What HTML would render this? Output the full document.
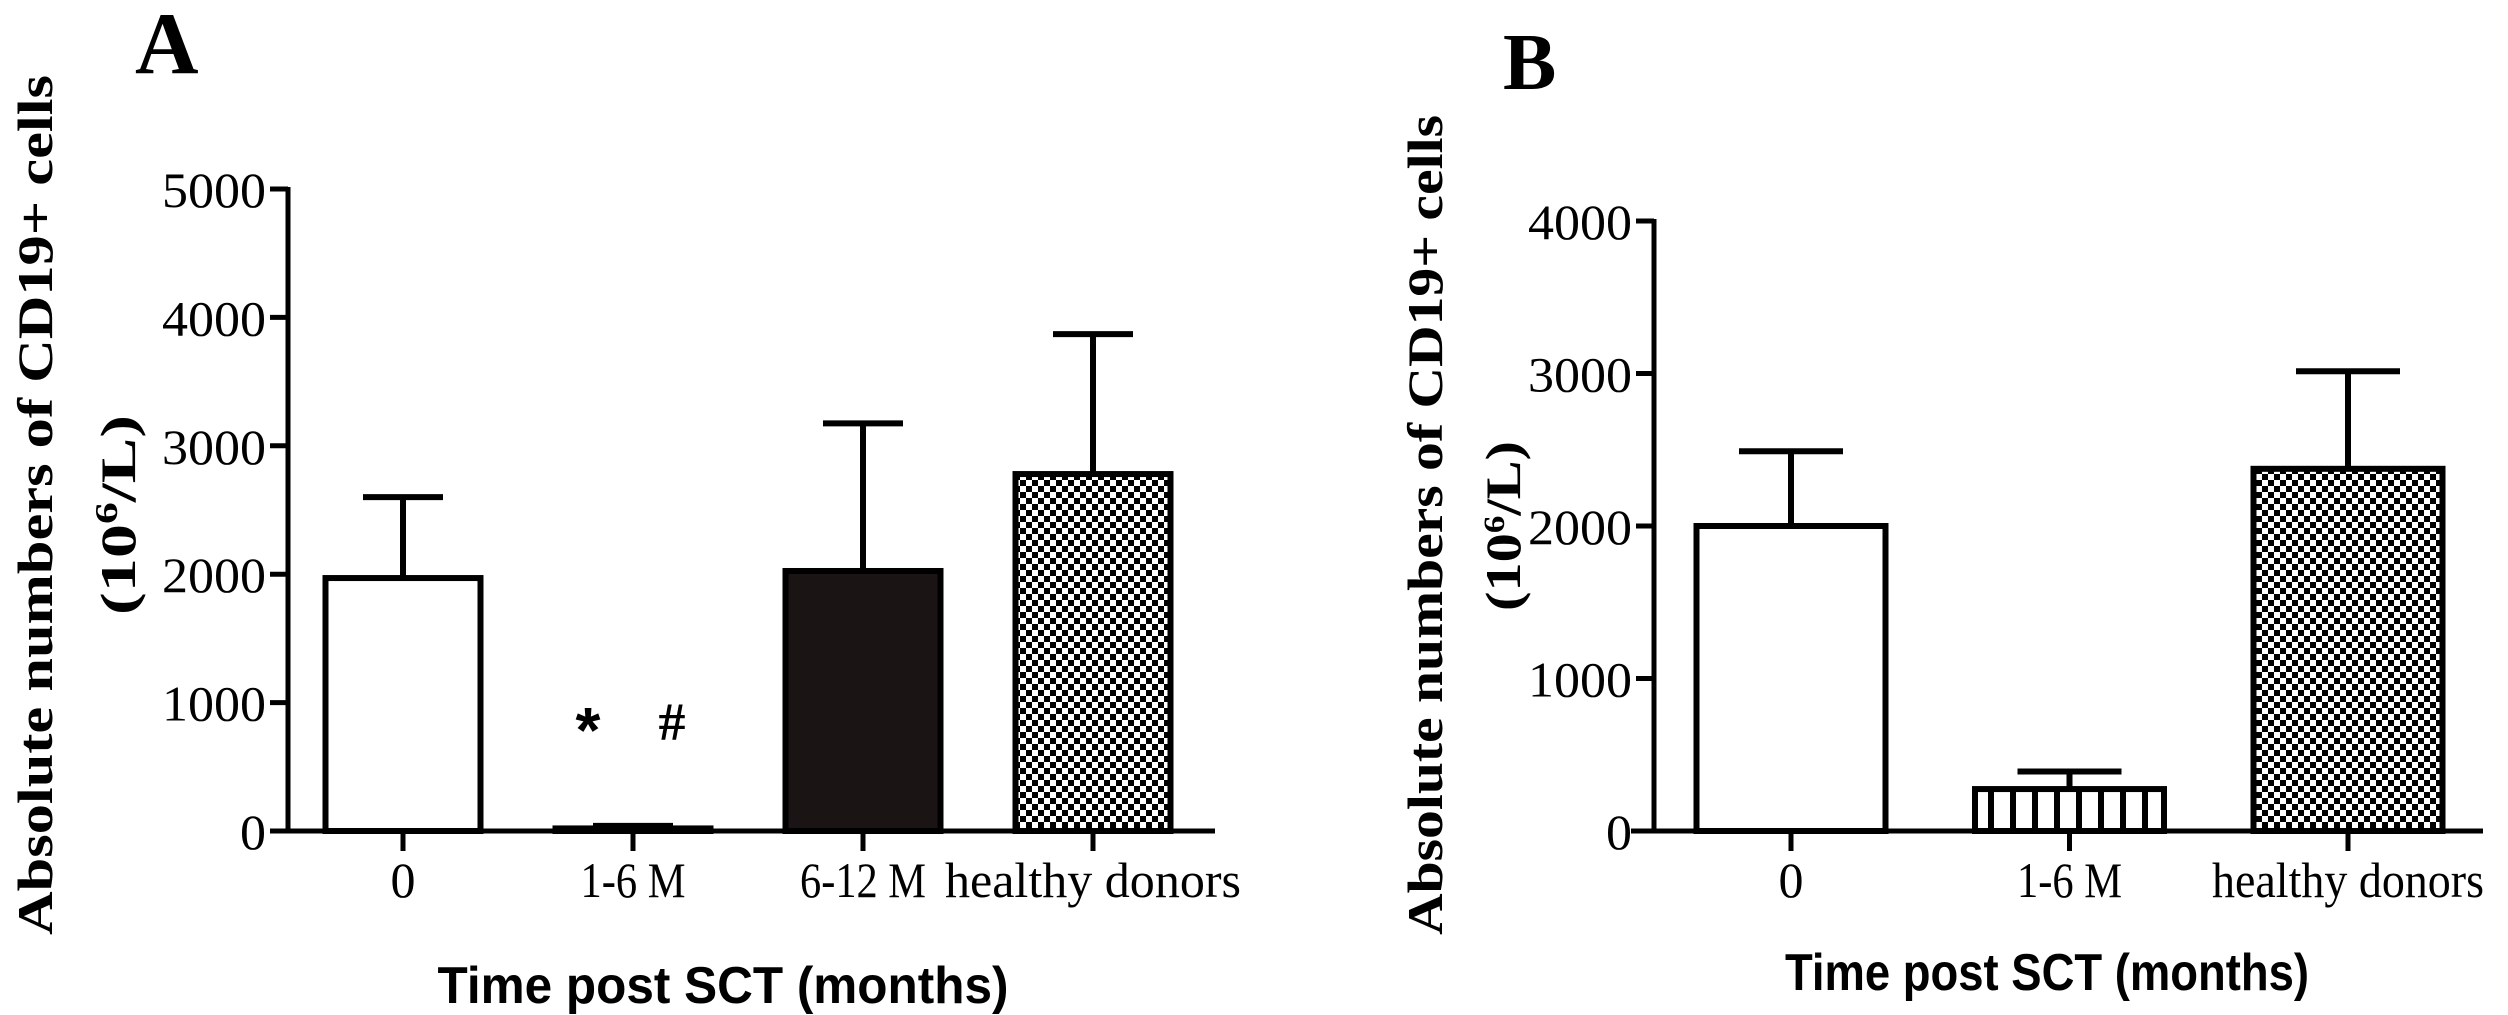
<!DOCTYPE html>
<html><head><meta charset="utf-8"><style>
html,body{margin:0;padding:0;background:#fff}
svg{display:block}
text{fill:#000}
.tick{font-family:"Liberation Serif",serif;font-size:50px}
.ttl{font-family:"Liberation Serif",serif;font-weight:bold;font-size:50px}
.xt{font-family:"Liberation Sans",sans-serif;font-weight:bold;font-size:52px}
</style></head><body>
<svg id="fig" width="2508" height="1015" viewBox="0 0 2508 1015" xmlns="http://www.w3.org/2000/svg">
<defs>
<pattern id="checker" width="12" height="12" patternUnits="userSpaceOnUse">
<rect width="12" height="12" fill="#fff"/><rect width="6" height="6" fill="#000"/><rect x="6" y="6" width="6" height="6" fill="#000"/>
</pattern>
<pattern id="stripes" width="22" height="10" patternUnits="userSpaceOnUse">
<rect width="22" height="10" fill="#fff"/><rect x="8" width="6" height="10" fill="#000"/>
</pattern>
</defs>
<g id="panelA"></g>
<g id="panelB"></g>
</svg>
<script>
const catsA = ["0","1-6 M","6-12 M","healthy donors"];
const meansA = [1970, 20, 2025, 2780];
const errsA = [2600, 40, 3175, 3870];
const fillsA = ["#fff","#fff","#1a1414","url(#checker)"];
const ticksA = [0,1000,2000,3000,4000,5000];

const catsB = ["0","1-6 M","healthy donors"];
const meansB = [2000, 275, 2375];
const errsB = [2490, 390, 3015];
const fillsB = ["#fff","url(#stripes)","url(#checker)"];
const ticksB = [0,1000,2000,3000,4000];

const NS="http://www.w3.org/2000/svg";
function mk(parent,tag,attrs,txt){const e=document.createElementNS(NS,tag);for(const k in attrs)e.setAttribute(k,attrs[k]);if(txt!==undefined)e.textContent=txt;parent.appendChild(e);return e;}

function drawPanel(g,o,cats,means,errs,fills,ticks){
  const ymax=ticks[ticks.length-1];
  const y=v=>o.y0-(v/ymax)*(o.y0-o.yTop);
  const x=i=>o.x0c+i*o.step;
  const ya=mk(g,'line',{x1:o.ax,y1:y(ymax)-2,x2:o.ax,y2:o.y0+2,stroke:'#000','stroke-width':5});
  
  
  const xa=mk(g,'line',{x1:o.xs,y1:o.y0,x2:o.xe,y2:o.y0,stroke:'#000','stroke-width':5});
  
  
  ticks.forEach(t=>{
    mk(g,'line',{x1:o.ax-18,y1:y(t),x2:o.ax,y2:y(t),stroke:'#000','stroke-width':5});
    const s=String(t);
    const tl=mk(g,'text',{class:'tick',x:o.ax-22,y:y(t)+18,'text-anchor':'end',textLength:s.length*26,lengthAdjust:'spacingAndGlyphs'},s);
    
    
  });
  cats.forEach((c,i)=>{
    const cx=x(i);
    const bx=cx-o.bw/2;
    const top=y(means[i]);
    const bar=mk(g,'rect',{x:bx,y:top,width:o.bw,height:Math.max(o.y0-top,1),fill:fills[i],stroke:'#000','stroke-width':6});
    
    
    const eb=mk(g,'path',{d:`M${cx},${top} V${y(errs[i])} M${cx-o.cap},${y(errs[i])} H${cx+o.cap}`,stroke:'#000','stroke-width':6,fill:'none'});
    
    
    mk(g,'line',{x1:cx,y1:o.y0,x2:cx,y2:o.y0+20,stroke:'#000','stroke-width':5});
    const xl=mk(g,'text',{class:'tick',x:cx,y:o.y0+66,'text-anchor':'middle'},c);
    if(c==='healthy donors'){xl.setAttribute('textLength',o.hdLen);xl.setAttribute('lengthAdjust','spacingAndGlyphs');}
    else if(c.length>1){xl.setAttribute('textLength',c.length*21);xl.setAttribute('lengthAdjust','spacingAndGlyphs');}
    
    
  });
}
const A=document.getElementById('panelA');
drawPanel(A,{ax:288,y0:831,yTop:189,x0c:403,step:230,bw:155,cap:40,xs:270,xe:1215,hdLen:296},catsA,meansA,errsA,fillsA,ticksA);
const B=document.getElementById('panelB');
drawPanel(B,{ax:1654,y0:831,yTop:221,x0c:1791,step:278.5,bw:189,cap:52,xs:1631,xe:2483,hdLen:272},catsB,meansB,errsB,fillsB,ticksB);
</script>
<script>
(function(){
const s=document.getElementById('fig');
function t(attrs,txt,name){const e=document.createElementNS("http://www.w3.org/2000/svg",'text');for(const k in attrs)e.setAttribute(k,attrs[k]);e.innerHTML=txt;s.appendChild(e);return e;}
t({x:135,y:73,'font-family':'Liberation Serif, serif','font-weight':'bold','font-size':88},'A','panel-a-label');
t({x:1503,y:89,'font-family':'Liberation Serif, serif','font-weight':'bold','font-size':80},'B','panel-b-label');
t({x:588,y:752,'font-family':'Liberation Sans, sans-serif','font-weight':'bold','font-size':64,'text-anchor':'middle'},'*','significance-star');
t({x:672,y:740,'font-family':'Liberation Serif, serif','font-weight':'bold','font-size':54,'text-anchor':'middle'},'#','significance-hash');
t({transform:'translate(52,505) rotate(-90)','text-anchor':'middle',class:'ttl',textLength:860,lengthAdjust:'spacingAndGlyphs'},'Absolute numbers of CD19+ cells','y-axis-title-a');
t({transform:'translate(135,515) rotate(-90)','text-anchor':'middle',class:'ttl',textLength:200,lengthAdjust:'spacingAndGlyphs'},'(10<tspan dy="-18" font-size="32">6</tspan><tspan dy="18">/L)</tspan>','y-axis-unit-a');
t({x:723,y:1003,'text-anchor':'middle',class:'xt',textLength:571,lengthAdjust:'spacingAndGlyphs'},'Time post SCT (months)','x-axis-title-a');
t({transform:'translate(1442,525) rotate(-90)','text-anchor':'middle',class:'ttl','font-size':44,textLength:820,lengthAdjust:'spacingAndGlyphs'},'Absolute numbers of CD19+ cells','y-axis-title-b');
t({transform:'translate(1520,526) rotate(-90)','text-anchor':'middle',class:'ttl','font-size':46,textLength:170,lengthAdjust:'spacingAndGlyphs'},'(10<tspan dy="-16" font-size="30">6</tspan><tspan dy="16">/L)</tspan>','y-axis-unit-b');
t({x:2047,y:990,'text-anchor':'middle',class:'xt','font-size':48,textLength:524,lengthAdjust:'spacingAndGlyphs'},'Time post SCT (months)','x-axis-title-b');
})();
</script>
</body></html>
